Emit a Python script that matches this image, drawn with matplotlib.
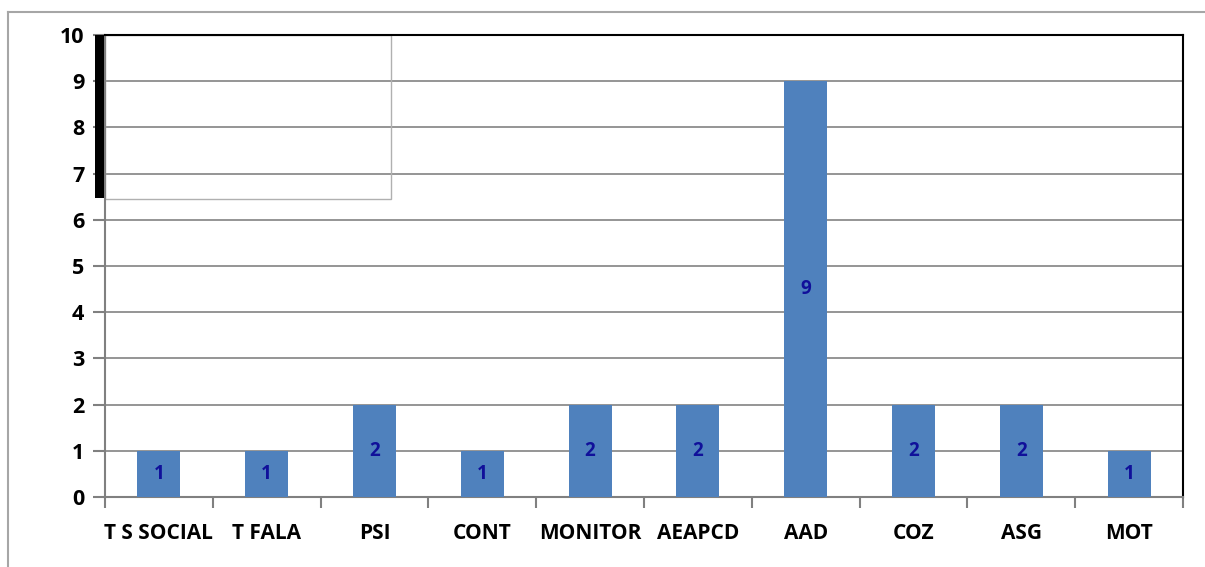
import matplotlib
matplotlib.use("Agg")
import matplotlib.pyplot as plt
from matplotlib.patches import Rectangle

categories = ["T S SOCIAL", "T FALA", "PSI", "CONT", "MONITOR", "AEAPCD",
              "AAD", "COZ", "ASG", "MOT"]
values = [1, 1, 2, 1, 2, 2, 9, 2, 2, 1]
y_ticks = list(range(0, 11))

plt.rcParams['font.family'] = ['Open Sans', 'DejaVu Sans']

W, H = 1205, 567
fig = plt.figure(figsize=(W / 100, H / 100), dpi=100)
fig.patch.set_facecolor("white")

# plot area in pixel coordinates
left, right, top, bottom = 105, 1183, 35, 497
ax = fig.add_axes([left / W, 1 - bottom / H, (right - left) / W, (bottom - top) / H])

x = list(range(len(categories)))
bars = ax.bar(x, values, width=0.4, color="#4F81BD", zorder=3)
for xi, v in zip(x, values):
    ax.text(xi, v / 2, str(v), ha="center", va="center", color="#10109A",
            fontsize=13.5, fontweight="bold", zorder=4)

ax.set_xlim(-0.5, len(categories) - 0.5)
ax.set_ylim(0, 10)
ax.set_yticks(y_ticks)
ax.set_yticklabels([str(t) for t in y_ticks], fontsize=15.5, fontweight="bold")
ax.set_xticks([i - 0.5 for i in range(len(categories) + 1)], minor=False)
ax.set_xticklabels([])
ax.set_xticks(x, minor=True)
ax.set_xticklabels(categories, minor=True, fontsize=15, fontweight="bold")
ax.tick_params(axis="x", which="minor", length=0, pad=19)
ax.tick_params(axis="x", which="major", length=8, width=1.5, color="#808080")
ax.tick_params(axis="y", length=9, width=1.5, color="#808080", pad=6)

ax.yaxis.grid(True, color="#8C8C8C", linewidth=1.3, zorder=0)
ax.set_axisbelow(True)
for side in ("left", "bottom"):
    ax.spines[side].set_color("#808080")
    ax.spines[side].set_linewidth(1.5)
for side in ("top", "right"):
    ax.spines[side].set_color("black")
    ax.spines[side].set_linewidth(1.5)

# leftover empty box with dark edge in the upper left of the plot
ax.add_patch(Rectangle((-0.5, 6.45), 2.65, 3.55, facecolor="none",
                       edgecolor="#B0B0B0", linewidth=1, zorder=2))
fig.patches.append(Rectangle(((left - 10) / W, 1 - 198 / H), 9 / W, (198 - top) / H,
                             transform=fig.transFigure, facecolor="black",
                             edgecolor="none"))

# outer chart frame
fig.add_artist(plt.Line2D([8 / W, 8 / W], [0, 1 - 12 / H], color="#A6A6A6",
                          linewidth=1.5, transform=fig.transFigure))
fig.add_artist(plt.Line2D([8 / W, 1], [1 - 12 / H, 1 - 12 / H], color="#A6A6A6",
                          linewidth=1.5, transform=fig.transFigure))

fig.savefig("out.png", dpi=100)
